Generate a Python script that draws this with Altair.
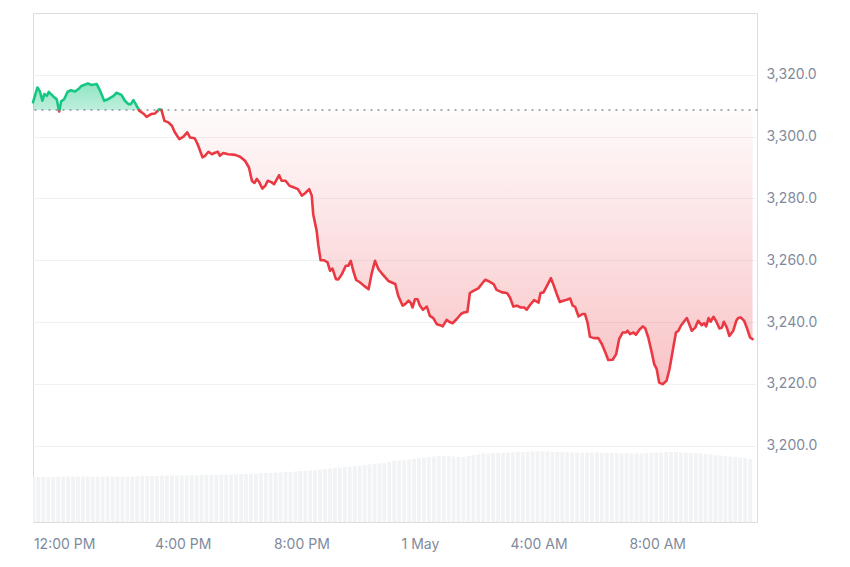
import altair as alt
import pandas as pd

# ---------------- data ----------------
START = pd.Timestamp("2024-04-30 10:57:00")
BASELINE = 3308.6

# minutes after START, price (USD)
price_minutes = [
    0, 9, 14, 19, 23, 28, 32, 38, 43, 48, 53, 57, 63, 70, 77, 85, 92, 98, 111, 119,
    129, 136, 144, 152, 163, 169, 179, 186, 193, 198, 203, 208, 215, 223, 230, 239, 247, 256, 260, 266,
    274, 281, 287, 296, 304, 312, 318, 327, 333, 343, 348, 355, 362, 367, 374, 378, 385, 395, 409, 419,
    429, 437, 443, 448, 453, 458, 464, 470, 475, 483, 488, 498, 503, 511, 519, 527, 536, 544, 550, 559,
    564, 567, 574, 577, 582, 589, 596, 601, 606, 613, 618, 625, 633, 638, 643, 648, 654, 662, 670, 679,
    685, 692, 699, 706, 712, 719, 726, 733, 739, 748, 753, 760, 764, 768, 773, 778, 783, 789, 797, 803,
    810, 817, 824, 829, 837, 842, 849, 857, 866, 872, 879, 884, 891, 901, 908, 915, 921, 932, 938, 949,
    959, 965, 972, 979, 987, 994, 999, 1006, 1014, 1023, 1027, 1033, 1040, 1048, 1054, 1060, 1066, 1073, 1080, 1087,
    1092, 1097, 1104, 1112, 1117, 1122, 1127, 1135, 1144, 1151, 1158, 1164, 1173, 1180, 1186, 1193, 1200, 1203, 1208, 1215,
    1220, 1227, 1234, 1239, 1245, 1252, 1257, 1262, 1267, 1274, 1282, 1288, 1295, 1301, 1306, 1311, 1317, 1323, 1328, 1333,
    1340, 1346, 1353, 1358, 1362, 1367, 1371, 1377, 1382, 1389, 1394, 1398, 1404, 1409, 1417, 1423, 1427, 1432, 1439, 1445,
    1451, 1456,
]
price_values = [
    3311.1, 3315.9, 3314.6, 3311.6, 3313.8, 3313.2, 3314.5, 3313.5, 3312.7, 3312.1, 3308.1, 3311.4, 3312.1, 3314.5, 3315.0, 3314.6, 3315.4, 3316.4, 3317.2, 3316.7,
    3317.0, 3314.8, 3311.6, 3312.1, 3313.2, 3314.2, 3313.5, 3311.6, 3310.5, 3310.5, 3311.8, 3310.5, 3308.4, 3307.5, 3306.4, 3307.3, 3307.5, 3308.9, 3308.6, 3305.1,
    3304.6, 3303.5, 3301.4, 3299.2, 3299.9, 3301.4, 3299.7, 3299.5, 3297.6, 3293.3, 3293.8, 3295.1, 3294.3, 3294.7, 3295.1, 3293.8, 3294.7, 3294.3, 3294.1, 3293.5,
    3292.2, 3290.0, 3285.7, 3285.0, 3286.3, 3285.2, 3283.2, 3284.1, 3285.7, 3285.2, 3284.6, 3287.5, 3285.7, 3285.7, 3284.1, 3283.6, 3283.0, 3280.9, 3281.6, 3283.0,
    3280.9, 3274.9, 3269.5, 3265.2, 3260.0, 3260.0, 3259.3, 3256.6, 3257.3, 3253.9, 3253.8, 3255.5, 3258.2, 3258.2, 3259.8, 3256.6, 3253.6, 3252.8, 3251.7, 3250.6,
    3255.5, 3259.8, 3257.1, 3255.7, 3254.6, 3253.3, 3252.8, 3252.3, 3248.5, 3245.3, 3245.8, 3246.9, 3246.3, 3244.7, 3247.4, 3247.4, 3245.3, 3244.0, 3245.0, 3242.0,
    3241.3, 3239.3, 3239.0, 3238.6, 3240.7, 3240.1, 3239.6, 3240.9, 3242.6, 3243.1, 3243.3, 3249.4, 3250.1, 3250.9, 3252.3, 3253.7, 3253.3, 3252.3, 3250.4, 3249.6,
    3249.4, 3248.0, 3245.0, 3245.3, 3244.7, 3244.7, 3244.0, 3245.6, 3247.1, 3246.3, 3249.4, 3249.6, 3251.7, 3254.2, 3251.7, 3249.0, 3246.5, 3246.9, 3247.2, 3247.6,
    3245.3, 3244.9, 3241.8, 3242.6, 3242.6, 3239.9, 3235.2, 3234.8, 3234.8, 3232.9, 3230.2, 3227.7, 3227.8, 3229.6, 3234.5, 3236.6, 3236.6, 3237.2, 3236.1, 3236.6,
    3235.9, 3237.5, 3238.6, 3237.9, 3235.0, 3230.2, 3226.4, 3224.8, 3220.4, 3219.9, 3221.0, 3224.8, 3231.2, 3236.6, 3237.2, 3238.8, 3240.1, 3241.3, 3239.3, 3237.2,
    3238.2, 3240.4, 3239.0, 3239.6, 3238.6, 3241.3, 3240.1, 3241.7, 3240.4, 3237.9, 3238.2, 3240.1, 3238.2, 3235.5, 3237.2, 3240.4, 3241.3, 3241.5, 3240.4, 3237.9,
    3235.0, 3234.5,
]

# volume bars, one every 10 minutes from START (arbitrary units)
volume_step_minutes = 10
volume_values = [
    450, 450, 450, 450, 450, 455, 455, 455, 455, 455,
    455, 455, 450, 455, 455, 455, 455, 455, 455, 455,
    455, 455, 460, 460, 460, 460, 462, 465, 465, 465,
    465, 468, 468, 468, 472, 472, 472, 472, 475, 475,
    475, 480, 480, 480, 485, 485, 490, 490, 490, 495,
    495, 500, 500, 505, 510, 510, 515, 520, 525, 530,
    535, 540, 545, 550, 555, 560, 565, 570, 575, 580,
    585, 590, 600, 610, 615, 620, 625, 630, 640, 645,
    650, 655, 660, 660, 660, 655, 650, 650, 660, 670,
    680, 685, 685, 690, 690, 690, 695, 695, 700, 700,
    700, 705, 705, 705, 705, 700, 700, 700, 695, 695,
    695, 695, 695, 695, 695, 690, 690, 690, 690, 685,
    690, 685, 685, 685, 690, 690, 695, 695, 700, 700,
    700, 695, 695, 690, 690, 685, 680, 675, 670, 665,
    660, 655, 650, 645, 640, 630,
]

y_tick_values = [3200, 3220, 3240, 3260, 3280, 3300, 3320]
y_domain = [3175.3, 3340.0]
volume_domain = [0, 5090]

GREEN = "#16c784"
RED = "#ea3943"
LABEL_COLOR = "#808a9d"
FONT = "Inter"

# ---------------- tables built from the arrays ----------------
times = [START + pd.Timedelta(minutes=m) for m in price_minutes]
rows = []
seg = 0
prev = None
for t, v in zip(times, price_values):
    side = "up" if v >= BASELINE else "down"
    if prev is not None:
        pt, pv, pside = prev
        if pside != side:
            f = (BASELINE - pv) / (v - pv)
            tc = pt + (t - pt) * f
            rows.append(dict(t=tc, v=BASELINE, seg=seg, side=pside))
            seg += 1
            rows.append(dict(t=tc, v=BASELINE, seg=seg, side=side))
    rows.append(dict(t=t, v=v, seg=seg, side=side))
    prev = (t, v, side)
line_df = pd.DataFrame(rows)
line_df["hi"] = line_df["v"].clip(lower=BASELINE)
line_df["lo"] = line_df["v"].clip(upper=BASELINE)
line_df["base"] = BASELINE

vol_df = pd.DataFrame({
    "t": [START + pd.Timedelta(minutes=volume_step_minutes * i + 1) for i in range(len(volume_values))],
    "vol": volume_values,
})

# ---------------- chart ----------------
x_scale = alt.Scale(
    domain=[
        alt.DateTime(year=2024, month=4, date=30, hours=10, minutes=57),
        alt.DateTime(year=2024, month=5, date=1, hours=11, minutes=22),
    ],
    padding=0,
)
x_axis = alt.Axis(
    values=[
        alt.DateTime(year=2024, month=4, date=30, hours=12),
        alt.DateTime(year=2024, month=4, date=30, hours=16),
        alt.DateTime(year=2024, month=4, date=30, hours=20),
        alt.DateTime(year=2024, month=5, date=1, hours=0),
        alt.DateTime(year=2024, month=5, date=1, hours=4),
        alt.DateTime(year=2024, month=5, date=1, hours=8),
    ],
    labelExpr="hours(datum.value) == 0 ? timeFormat(datum.value, '%-d %b') : timeFormat(datum.value, '%-I:%M %p')",
    grid=False, ticks=False, domain=False, labelFlush=False,
    labelPadding=15, title=None,
    labelFont=FONT, labelFontSize=14, labelColor=LABEL_COLOR,
)
x_enc = alt.X("t:T", scale=x_scale, axis=x_axis)

y_scale = alt.Scale(domain=y_domain, nice=False, zero=False)
y_axis = alt.Axis(
    orient="right", values=y_tick_values, format=",.1f", grid=True,
    gridColor="#eff2f5", gridWidth=1, domain=False, ticks=False,
    labelPadding=9, title=None,
    labelFont=FONT, labelFontSize=14, labelColor=LABEL_COLOR,
)

vol = alt.Chart(vol_df).mark_bar(width=3.8, color="#f1f3f5", clip=True).encode(
    x=x_enc,
    y=alt.Y("vol:Q", scale=alt.Scale(domain=volume_domain), axis=None),
)

green_fill = alt.Gradient(
    gradient="linear", x1=0, x2=0, y1=0, y2=1,
    stops=[alt.GradientStop(color="rgba(22,199,132,0.48)", offset=0),
           alt.GradientStop(color="rgba(22,199,132,0.28)", offset=1)],
)
red_fill = alt.Gradient(
    gradient="linear", x1=0, x2=0, y1=0, y2=1,
    stops=[alt.GradientStop(color="rgba(234,57,67,0.02)", offset=0),
           alt.GradientStop(color="rgba(234,57,67,0.30)", offset=1)],
)

area_up = alt.Chart(line_df).mark_area(color=green_fill).encode(
    x=x_enc,
    y=alt.Y("hi:Q", scale=y_scale, axis=y_axis),
    y2="base:Q",
)
area_down = alt.Chart(line_df).mark_area(color=red_fill).encode(
    x=x_enc,
    y=alt.Y("lo:Q", scale=y_scale, axis=y_axis),
    y2="base:Q",
)
base_rule = alt.Chart(line_df).mark_rule(
    color="#8a919e", strokeWidth=1.4, strokeDash=[1, 6], strokeCap="round"
).encode(y=alt.Y("mean(base):Q", scale=y_scale, axis=y_axis))

line = alt.Chart(line_df).mark_line(strokeWidth=2.6, strokeJoin="round", strokeCap="round").encode(
    x=x_enc,
    y=alt.Y("v:Q", scale=y_scale, axis=y_axis),
    detail="seg:N",
    color=alt.Color("side:N", scale=alt.Scale(domain=["up", "down"], range=[GREEN, RED]), legend=None),
    order="t:T",
)

price_layer = alt.layer(area_up, area_down, base_rule, line)

chart = alt.layer(vol, price_layer).resolve_scale(y="independent").properties(
    width=724, height=509,
    padding={"left": 23, "top": 5, "right": 5, "bottom": 5},
).configure_view(
    stroke="#eceef2", strokeWidth=1,
).configure(background="white")

chart.save("out.html", embed_options={"renderer": "svg", "actions": False})
